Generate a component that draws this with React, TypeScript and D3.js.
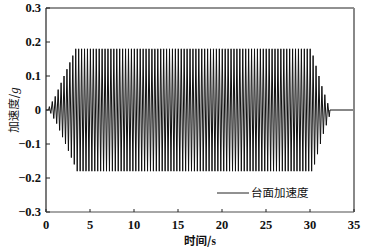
import React from "react";
import * as d3 from "d3";

// Time axis / amplitude axis ticks
const xTicks = [0, 5, 10, 15, 20, 25, 30, 35];
const yTicks = [-0.3, -0.2, -0.1, 0, 0.1, 0.2, 0.3];

// Signal description
const signalStart = 0.3; // s, first oscillation
const signalPeriod = 0.333; // s, one cycle
const signalEndFlat = 35; // s, flat tail end
// Peak amplitude (g) of each successive cycle
const cyclePeaks = [
  0.01, 0.025, 0.04, 0.06, 0.08, 0.1, 0.12, 0.14, 0.16,
  0.18, 0.18, 0.18, 0.18, 0.18, 0.18, 0.18, 0.18, 0.18, 0.18,
  0.18, 0.18, 0.18, 0.18, 0.18, 0.18, 0.18, 0.18, 0.18, 0.18,
  0.18, 0.18, 0.18, 0.18, 0.18, 0.18, 0.18, 0.18, 0.18, 0.18,
  0.18, 0.18, 0.18, 0.18, 0.18, 0.18, 0.18, 0.18, 0.18, 0.18,
  0.18, 0.18, 0.18, 0.18, 0.18, 0.18, 0.18, 0.18, 0.18, 0.18,
  0.18, 0.18, 0.18, 0.18, 0.18, 0.18, 0.18, 0.18, 0.18, 0.18,
  0.18, 0.18, 0.18, 0.18, 0.18, 0.18, 0.18, 0.18, 0.18, 0.18,
  0.18, 0.18, 0.18, 0.18, 0.18, 0.18, 0.18, 0.18, 0.18, 0.18,
  0.18, 0.16, 0.13, 0.1, 0.07, 0.045, 0.02,
];
const legendLabel = "台面加速度";
const xLabel = "时间/s";

export default function App() {
  const W = 367, H = 250;
  const left = 46, right = 354, top = 8, bottom = 212;
  const x = d3.scaleLinear().domain([0, 35]).range([left, right]);
  const y = d3.scaleLinear().domain([-0.3, 0.3]).range([bottom, top]);

  const pts: [number, number][] = [[0, 0], [signalStart, 0]];
  cyclePeaks.forEach((a, i) => {
    const t0 = signalStart + i * signalPeriod;
    pts.push([t0 + signalPeriod * 0.25, a]);
    pts.push([t0 + signalPeriod * 0.75, -a]);
  });
  const tEnd = signalStart + cyclePeaks.length * signalPeriod;
  pts.push([tEnd, 0]);
  pts.push([signalEndFlat, 0]);

  const line = d3.line<[number, number]>().x((d) => x(d[0])).y((d) => y(d[1]));
  const serif = "'Liberation Serif', 'Times New Roman', serif";
  const cjk = "'Noto Sans CJK SC', sans-serif";

  return (
    <svg width={W} height={H} style={{ position: "absolute", left: 0, top: 0, background: "#fff" }}>
      <path d={line(pts) || ""} fill="none" stroke="#111" strokeWidth={1} />
      {/* frame */}
      <line x1={left} x2={right} y1={top} y2={top} stroke="#222" strokeWidth={1} />
      <line x1={right} x2={right} y1={top} y2={bottom} stroke="#888" strokeWidth={2} />
      <line x1={left} x2={left} y1={top} y2={bottom} stroke="#222" strokeWidth={1.2} />
      <line x1={left} x2={right} y1={bottom} y2={bottom} stroke="#888" strokeWidth={1.6} />
      {yTicks.map((t) => (
        <g key={"y" + t}>
          <line x1={left} x2={left + 4} y1={y(t)} y2={y(t)} stroke="#222" />
          <text x={left - 5} y={y(t)} dy="0.35em" textAnchor="end" fontFamily={serif} fontSize={12.5} fontWeight="bold" fill="#111">
            {t === 0 ? "0" : d3.format(".1f")(t).replace("-", "\u2212")}
          </text>
        </g>
      ))}
      {xTicks.map((t) => (
        <g key={"x" + t}>
          <line x1={x(t)} x2={x(t)} y1={bottom} y2={bottom - 3} stroke="#222" />
          <text x={x(t)} y={225} dy="0.35em" textAnchor="middle" fontFamily={serif} fontSize={12.5} fontWeight="bold" fill="#111">
            {t}
          </text>
        </g>
      ))}
      <text x={(left + right) / 2} y={241} dy="0.35em" textAnchor="middle" fontFamily={cjk} fontSize={11.5} fontWeight="bold" fill="#111">
        {xLabel.replace("/s", "/")}<tspan fontFamily={serif}>s</tspan>
      </text>
      <text transform={`translate(14,${(top + bottom) / 2}) rotate(-90)`} textAnchor="middle" dy="0.35em" fontFamily={cjk} fontSize={11.5} fill="#111">
        加速度/<tspan fontFamily={serif} fontStyle="italic" fontSize={13}>g</tspan>
      </text>
      <line x1={217} x2={249} y1={193} y2={193} stroke="#222" strokeWidth={1} />
      <text x={251} y={193} dy="0.35em" fontFamily={cjk} fontSize={11.5} fill="#111">
        {legendLabel}
      </text>
    </svg>
  );
}
